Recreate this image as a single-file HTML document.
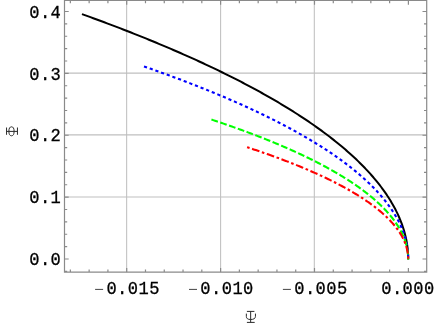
<!DOCTYPE html>
<html><head><meta charset="utf-8"><title>plot</title>
<style>html,body{margin:0;padding:0;background:#fff;}svg{display:block;}text{font-family:"Liberation Mono";fill:#000;stroke:#000;stroke-width:0.3px;}</style></head><body>
<svg width="436" height="328" viewBox="0 0 436 328">
<rect width="436" height="328" fill="#fff"/>
<path d="M126.65 0.5 V272.2 M220.6 0.5 V272.2 M314.3 0.5 V272.2 M64.5 197.05 H426.7 M64.5 134.85 H426.7 M64.5 73.1 H426.7" stroke="#000" stroke-opacity="0.25" stroke-width="1.05" fill="none"/>
<path d="M81.96 14.10 L84.81 15.12 L87.64 16.15 L90.45 17.17 L93.26 18.20 L96.04 19.22 L98.82 20.25 L101.58 21.27 L104.32 22.30 L107.06 23.32 L109.78 24.35 L112.48 25.37 L115.17 26.40 L117.85 27.42 L120.51 28.44 L123.17 29.47 L125.80 30.49 L128.43 31.52 L131.04 32.54 L133.63 33.57 L136.22 34.59 L138.79 35.62 L141.34 36.64 L143.89 37.67 L146.42 38.69 L148.93 39.72 L151.43 40.74 L153.92 41.77 L156.40 42.79 L158.86 43.81 L161.31 44.84 L163.75 45.86 L166.17 46.89 L168.58 47.91 L170.98 48.94 L173.36 49.96 L175.73 50.99 L178.09 52.01 L180.43 53.04 L182.77 54.06 L185.08 55.09 L187.39 56.11 L189.68 57.14 L191.96 58.16 L194.23 59.19 L196.48 60.21 L198.72 61.23 L200.95 62.26 L203.16 63.28 L205.37 64.31 L207.56 65.33 L209.73 66.36 L211.90 67.38 L214.05 68.41 L216.18 69.43 L218.31 70.46 L220.42 71.48 L222.52 72.51 L224.61 73.53 L226.68 74.56 L228.75 75.58 L230.80 76.60 L232.83 77.63 L234.86 78.65 L236.87 79.68 L238.87 80.70 L240.85 81.73 L242.83 82.75 L244.79 83.78 L246.74 84.80 L248.67 85.83 L250.60 86.85 L252.51 87.88 L254.41 88.90 L256.30 89.93 L258.17 90.95 L260.03 91.98 L261.88 93.00 L263.72 94.02 L265.55 95.05 L267.36 96.07 L269.16 97.10 L270.95 98.12 L272.73 99.15 L274.49 100.17 L276.24 101.20 L277.98 102.22 L279.71 103.25 L281.43 104.27 L283.13 105.30 L284.82 106.32 L286.50 107.35 L288.17 108.37 L289.82 109.40 L291.46 110.42 L293.10 111.44 L294.71 112.47 L296.32 113.49 L297.92 114.52 L299.50 115.54 L301.07 116.57 L302.63 117.59 L304.18 118.62 L305.71 119.64 L307.24 120.67 L308.75 121.69 L310.25 122.72 L311.73 123.74 L313.21 124.77 L314.67 125.79 L316.13 126.81 L317.57 127.84 L319.00 128.86 L320.41 129.89 L321.82 130.91 L323.21 131.94 L324.59 132.96 L325.96 133.99 L327.32 135.01 L328.67 136.04 L330.00 137.06 L331.33 138.09 L332.64 139.11 L333.94 140.14 L335.23 141.16 L336.50 142.19 L337.77 143.21 L339.02 144.23 L340.26 145.26 L341.49 146.28 L342.71 147.31 L343.92 148.33 L345.12 149.36 L346.30 150.38 L347.47 151.41 L348.63 152.43 L349.78 153.46 L350.92 154.48 L352.05 155.51 L353.16 156.53 L354.27 157.56 L355.36 158.58 L356.44 159.60 L357.51 160.63 L358.57 161.65 L359.62 162.68 L360.65 163.70 L361.67 164.73 L362.69 165.75 L363.69 166.78 L364.68 167.80 L365.66 168.83 L366.62 169.85 L367.58 170.88 L368.52 171.90 L369.46 172.93 L370.38 173.95 L371.29 174.98 L372.19 176.00 L373.08 177.02 L373.96 178.05 L374.82 179.07 L375.68 180.10 L376.52 181.12 L377.35 182.15 L378.17 183.17 L378.98 184.20 L379.78 185.22 L380.57 186.25 L381.34 187.27 L382.11 188.30 L382.86 189.32 L383.60 190.35 L384.33 191.37 L385.05 192.40 L385.76 193.42 L386.46 194.44 L387.15 195.47 L387.82 196.49 L388.49 197.52 L389.14 198.54 L389.78 199.57 L390.42 200.59 L391.04 201.62 L391.64 202.64 L392.24 203.67 L392.83 204.69 L393.41 205.72 L393.97 206.74 L394.52 207.77 L395.07 208.79 L395.60 209.81 L396.12 210.84 L396.63 211.86 L397.13 212.89 L397.61 213.91 L398.09 214.94 L398.56 215.96 L399.01 216.99 L399.45 218.01 L399.89 219.04 L400.31 220.06 L400.72 221.09 L401.12 222.11 L401.51 223.14 L401.88 224.16 L402.25 225.19 L402.60 226.21 L402.95 227.23 L403.28 228.26 L403.61 229.28 L403.92 230.31 L404.22 231.33 L404.51 232.36 L404.79 233.38 L405.05 234.41 L405.31 235.43 L405.56 236.46 L405.79 237.48 L406.02 238.51 L406.23 239.53 L406.43 240.56 L406.62 241.58 L406.80 242.60 L406.97 243.63 L407.13 244.65 L407.28 245.68 L407.41 246.70 L407.54 247.73 L407.65 248.75 L407.76 249.78 L407.85 250.80 L407.93 251.83 L408.00 252.85 L408.06 253.88 L408.11 254.90 L408.15 255.93 L408.18 256.95 L408.19 257.98 L408.20 259.00 L408.20 259.60" stroke="#000000" stroke-width="2.0" fill="none"/>
<path d="M144.00 66.45 L146.32 67.25 L148.62 68.06 L150.91 68.86 L153.19 69.67 L155.46 70.47 L157.72 71.28 L159.97 72.08 L162.20 72.89 L164.43 73.70 L166.64 74.50 L168.84 75.31 L171.03 76.11 L173.21 76.92 L175.38 77.72 L177.53 78.53 L179.68 79.34 L181.81 80.14 L183.94 80.95 L186.05 81.75 L188.15 82.56 L190.24 83.36 L192.31 84.17 L194.38 84.98 L196.44 85.78 L198.48 86.59 L200.52 87.39 L202.54 88.20 L204.55 89.00 L206.55 89.81 L208.54 90.62 L210.52 91.42 L212.49 92.23 L214.45 93.03 L216.39 93.84 L218.33 94.64 L220.25 95.45 L222.17 96.25 L224.07 97.06 L225.96 97.87 L227.84 98.67 L229.72 99.48 L231.58 100.28 L233.43 101.09 L235.26 101.89 L237.09 102.70 L238.91 103.51 L240.72 104.31 L242.51 105.12 L244.30 105.92 L246.08 106.73 L247.84 107.53 L249.60 108.34 L251.34 109.15 L253.07 109.95 L254.80 110.76 L256.51 111.56 L258.21 112.37 L259.90 113.17 L261.58 113.98 L263.26 114.79 L264.92 115.59 L266.57 116.40 L268.21 117.20 L269.84 118.01 L271.46 118.81 L273.07 119.62 L274.66 120.42 L276.25 121.23 L277.83 122.04 L279.40 122.84 L280.96 123.65 L282.51 124.45 L284.05 125.26 L285.57 126.06 L287.09 126.87 L288.60 127.68 L290.10 128.48 L291.58 129.29 L293.06 130.09 L294.53 130.90 L295.99 131.70 L297.43 132.51 L298.87 133.32 L300.30 134.12 L301.72 134.93 L303.12 135.73 L304.52 136.54 L305.91 137.34 L307.29 138.15 L308.65 138.96 L310.01 139.76 L311.36 140.57 L312.70 141.37 L314.03 142.18 L315.35 142.98 L316.65 143.79 L317.95 144.59 L319.24 145.40 L320.52 146.21 L321.79 147.01 L323.05 147.82 L324.30 148.62 L325.54 149.43 L326.77 150.23 L328.00 151.04 L329.21 151.85 L330.41 152.65 L331.60 153.46 L332.79 154.26 L333.96 155.07 L335.12 155.87 L336.28 156.68 L337.42 157.49 L338.56 158.29 L339.68 159.10 L340.80 159.90 L341.90 160.71 L343.00 161.51 L344.09 162.32 L345.16 163.13 L346.23 163.93 L347.29 164.74 L348.34 165.54 L349.38 166.35 L350.41 167.15 L351.43 167.96 L352.44 168.77 L353.45 169.57 L354.44 170.38 L355.42 171.18 L356.40 171.99 L357.36 172.79 L358.32 173.60 L359.26 174.40 L360.20 175.21 L361.13 176.02 L362.05 176.82 L362.96 177.63 L363.86 178.43 L364.75 179.24 L365.63 180.04 L366.50 180.85 L367.36 181.66 L368.21 182.46 L369.06 183.27 L369.89 184.07 L370.72 184.88 L371.54 185.68 L372.34 186.49 L373.14 187.30 L373.93 188.10 L374.71 188.91 L375.48 189.71 L376.24 190.52 L376.99 191.32 L377.74 192.13 L378.47 192.94 L379.20 193.74 L379.91 194.55 L380.62 195.35 L381.32 196.16 L382.01 196.96 L382.69 197.77 L383.36 198.57 L384.02 199.38 L384.67 200.19 L385.31 200.99 L385.95 201.80 L386.57 202.60 L387.19 203.41 L387.80 204.21 L388.39 205.02 L388.98 205.83 L389.56 206.63 L390.13 207.44 L390.70 208.24 L391.25 209.05 L391.79 209.85 L392.33 210.66 L392.86 211.47 L393.37 212.27 L393.88 213.08 L394.38 213.88 L394.87 214.69 L395.35 215.49 L395.83 216.30 L396.29 217.11 L396.74 217.91 L397.19 218.72 L397.63 219.52 L398.05 220.33 L398.47 221.13 L398.88 221.94 L399.29 222.74 L399.68 223.55 L400.06 224.36 L400.44 225.16 L400.80 225.97 L401.16 226.77 L401.51 227.58 L401.85 228.38 L402.18 229.19 L402.50 230.00 L402.81 230.80 L403.12 231.61 L403.41 232.41 L403.70 233.22 L403.97 234.02 L404.24 234.83 L404.50 235.64 L404.75 236.44 L404.99 237.25 L405.23 238.05 L405.45 238.86 L405.67 239.66 L405.87 240.47 L406.07 241.28 L406.26 242.08 L406.44 242.89 L406.61 243.69 L406.78 244.50 L406.93 245.30 L407.07 246.11 L407.21 246.91 L407.34 247.72 L407.46 248.53 L407.57 249.33 L407.67 250.14 L407.76 250.94 L407.84 251.75 L407.92 252.55 L407.98 253.36 L408.04 254.17 L408.09 254.97 L408.13 255.78 L408.16 256.58 L408.18 257.39 L408.20 258.19 L408.20 259.00 L408.20 259.60" stroke="#0000ff" stroke-width="2.1" fill="none" stroke-dasharray="3.165 2.868"/>
<path d="M211.44 119.53 L213.19 120.12 L214.94 120.70 L216.67 121.28 L218.40 121.87 L220.12 122.45 L221.83 123.03 L223.53 123.62 L225.22 124.20 L226.90 124.79 L228.58 125.37 L230.24 125.95 L231.90 126.54 L233.54 127.12 L235.18 127.70 L236.81 128.29 L238.43 128.87 L240.04 129.45 L241.64 130.04 L243.23 130.62 L244.82 131.20 L246.39 131.79 L247.96 132.37 L249.52 132.96 L251.06 133.54 L252.60 134.12 L254.14 134.71 L255.66 135.29 L257.17 135.87 L258.68 136.46 L260.17 137.04 L261.66 137.62 L263.14 138.21 L264.61 138.79 L266.08 139.37 L267.53 139.96 L268.98 140.54 L270.41 141.12 L271.84 141.71 L273.26 142.29 L274.67 142.88 L276.08 143.46 L277.47 144.04 L278.86 144.63 L280.24 145.21 L281.61 145.79 L282.97 146.38 L284.32 146.96 L285.67 147.54 L287.00 148.13 L288.33 148.71 L289.65 149.29 L290.97 149.88 L292.27 150.46 L293.57 151.04 L294.85 151.63 L296.13 152.21 L297.40 152.80 L298.67 153.38 L299.92 153.96 L301.17 154.55 L302.41 155.13 L303.64 155.71 L304.87 156.30 L306.08 156.88 L307.29 157.46 L308.49 158.05 L309.68 158.63 L310.87 159.21 L312.04 159.80 L313.21 160.38 L314.37 160.97 L315.52 161.55 L316.67 162.13 L317.80 162.72 L318.93 163.30 L320.05 163.88 L321.17 164.47 L322.27 165.05 L323.37 165.63 L324.46 166.22 L325.55 166.80 L326.62 167.38 L327.69 167.97 L328.75 168.55 L329.80 169.13 L330.85 169.72 L331.88 170.30 L332.91 170.89 L333.93 171.47 L334.95 172.05 L335.96 172.64 L336.96 173.22 L337.95 173.80 L338.93 174.39 L339.91 174.97 L340.88 175.55 L341.84 176.14 L342.80 176.72 L343.74 177.30 L344.68 177.89 L345.62 178.47 L346.54 179.05 L347.46 179.64 L348.37 180.22 L349.27 180.81 L350.17 181.39 L351.06 181.97 L351.94 182.56 L352.81 183.14 L353.68 183.72 L354.54 184.31 L355.39 184.89 L356.24 185.47 L357.07 186.06 L357.90 186.64 L358.73 187.22 L359.54 187.81 L360.35 188.39 L361.16 188.98 L361.95 189.56 L362.74 190.14 L363.52 190.73 L364.29 191.31 L365.06 191.89 L365.82 192.48 L366.57 193.06 L367.32 193.64 L368.05 194.23 L368.79 194.81 L369.51 195.39 L370.23 195.98 L370.94 196.56 L371.64 197.14 L372.34 197.73 L373.03 198.31 L373.71 198.90 L374.38 199.48 L375.05 200.06 L375.71 200.65 L376.37 201.23 L377.02 201.81 L377.66 202.40 L378.29 202.98 L378.92 203.56 L379.54 204.15 L380.15 204.73 L380.76 205.31 L381.36 205.90 L381.95 206.48 L382.54 207.06 L383.11 207.65 L383.69 208.23 L384.25 208.82 L384.81 209.40 L385.36 209.98 L385.91 210.57 L386.45 211.15 L386.98 211.73 L387.50 212.32 L388.02 212.90 L388.53 213.48 L389.04 214.07 L389.54 214.65 L390.03 215.23 L390.51 215.82 L390.99 216.40 L391.46 216.99 L391.93 217.57 L392.39 218.15 L392.84 218.74 L393.28 219.32 L393.72 219.90 L394.15 220.49 L394.58 221.07 L394.99 221.65 L395.41 222.24 L395.81 222.82 L396.21 223.40 L396.60 223.99 L396.99 224.57 L397.36 225.15 L397.74 225.74 L398.10 226.32 L398.46 226.91 L398.81 227.49 L399.16 228.07 L399.50 228.66 L399.83 229.24 L400.16 229.82 L400.48 230.41 L400.79 230.99 L401.10 231.57 L401.40 232.16 L401.69 232.74 L401.98 233.32 L402.26 233.91 L402.53 234.49 L402.80 235.07 L403.06 235.66 L403.31 236.24 L403.56 236.83 L403.80 237.41 L404.04 237.99 L404.27 238.58 L404.49 239.16 L404.70 239.74 L404.91 240.33 L405.11 240.91 L405.31 241.49 L405.50 242.08 L405.68 242.66 L405.86 243.24 L406.03 243.83 L406.19 244.41 L406.35 245.00 L406.50 245.58 L406.65 246.16 L406.78 246.75 L406.92 247.33 L407.04 247.91 L407.16 248.50 L407.27 249.08 L407.38 249.66 L407.48 250.25 L407.57 250.83 L407.66 251.41 L407.74 252.00 L407.81 252.58 L407.88 253.16 L407.94 253.75 L407.99 254.33 L408.04 254.92 L408.08 255.50 L408.12 256.08 L408.15 256.67 L408.17 257.25 L408.19 257.83 L408.20 258.42 L408.20 259.00 L408.20 259.60" stroke="#00ff00" stroke-width="2.1" fill="none" stroke-dasharray="6.782 2.525"/>
<path d="M245.98 146.82 L247.41 147.29 L248.83 147.76 L250.25 148.23 L251.66 148.70 L253.06 149.17 L254.45 149.64 L255.84 150.11 L257.22 150.58 L258.59 151.04 L259.96 151.51 L261.32 151.98 L262.67 152.45 L264.01 152.92 L265.35 153.39 L266.68 153.86 L268.00 154.33 L269.32 154.80 L270.63 155.27 L271.93 155.74 L273.22 156.21 L274.51 156.68 L275.79 157.15 L277.07 157.62 L278.33 158.09 L279.59 158.55 L280.85 159.02 L282.09 159.49 L283.33 159.96 L284.57 160.43 L285.79 160.90 L287.01 161.37 L288.22 161.84 L289.43 162.31 L290.63 162.78 L291.82 163.25 L293.00 163.72 L294.18 164.19 L295.35 164.66 L296.52 165.13 L297.68 165.60 L298.83 166.06 L299.97 166.53 L301.11 167.00 L302.24 167.47 L303.37 167.94 L304.49 168.41 L305.60 168.88 L306.70 169.35 L307.80 169.82 L308.89 170.29 L309.98 170.76 L311.06 171.23 L312.13 171.70 L313.20 172.17 L314.26 172.64 L315.31 173.11 L316.35 173.57 L317.39 174.04 L318.43 174.51 L319.45 174.98 L320.48 175.45 L321.49 175.92 L322.50 176.39 L323.50 176.86 L324.49 177.33 L325.48 177.80 L326.46 178.27 L327.44 178.74 L328.41 179.21 L329.37 179.68 L330.33 180.15 L331.28 180.62 L332.22 181.08 L333.16 181.55 L334.09 182.02 L335.02 182.49 L335.94 182.96 L336.85 183.43 L337.76 183.90 L338.66 184.37 L339.55 184.84 L340.44 185.31 L341.32 185.78 L342.20 186.25 L343.07 186.72 L343.93 187.19 L344.79 187.66 L345.64 188.13 L346.48 188.59 L347.32 189.06 L348.15 189.53 L348.98 190.00 L349.80 190.47 L350.61 190.94 L351.42 191.41 L352.22 191.88 L353.02 192.35 L353.81 192.82 L354.60 193.29 L355.37 193.76 L356.15 194.23 L356.91 194.70 L357.67 195.17 L358.43 195.64 L359.17 196.10 L359.92 196.57 L360.65 197.04 L361.38 197.51 L362.11 197.98 L362.83 198.45 L363.54 198.92 L364.25 199.39 L364.95 199.86 L365.64 200.33 L366.33 200.80 L367.01 201.27 L367.69 201.74 L368.36 202.21 L369.03 202.68 L369.69 203.14 L370.34 203.61 L370.99 204.08 L371.63 204.55 L372.27 205.02 L372.90 205.49 L373.52 205.96 L374.14 206.43 L374.75 206.90 L375.36 207.37 L375.96 207.84 L376.56 208.31 L377.15 208.78 L377.73 209.25 L378.31 209.72 L378.88 210.19 L379.45 210.65 L380.01 211.12 L380.57 211.59 L381.12 212.06 L381.66 212.53 L382.20 213.00 L382.74 213.47 L383.26 213.94 L383.78 214.41 L384.30 214.88 L384.81 215.35 L385.32 215.82 L385.81 216.29 L386.31 216.76 L386.80 217.23 L387.28 217.70 L387.75 218.16 L388.23 218.63 L388.69 219.10 L389.15 219.57 L389.60 220.04 L390.05 220.51 L390.50 220.98 L390.93 221.45 L391.36 221.92 L391.79 222.39 L392.21 222.86 L392.63 223.33 L393.04 223.80 L393.44 224.27 L393.84 224.74 L394.23 225.21 L394.62 225.67 L395.00 226.14 L395.38 226.61 L395.75 227.08 L396.11 227.55 L396.47 228.02 L396.83 228.49 L397.18 228.96 L397.52 229.43 L397.86 229.90 L398.19 230.37 L398.52 230.84 L398.84 231.31 L399.15 231.78 L399.46 232.25 L399.77 232.72 L400.07 233.18 L400.36 233.65 L400.65 234.12 L400.93 234.59 L401.21 235.06 L401.48 235.53 L401.75 236.00 L402.01 236.47 L402.27 236.94 L402.52 237.41 L402.76 237.88 L403.00 238.35 L403.23 238.82 L403.46 239.29 L403.69 239.76 L403.90 240.23 L404.12 240.69 L404.32 241.16 L404.53 241.63 L404.72 242.10 L404.91 242.57 L405.10 243.04 L405.28 243.51 L405.45 243.98 L405.62 244.45 L405.79 244.92 L405.94 245.39 L406.10 245.86 L406.24 246.33 L406.39 246.80 L406.52 247.27 L406.66 247.74 L406.78 248.20 L406.90 248.67 L407.02 249.14 L407.13 249.61 L407.23 250.08 L407.33 250.55 L407.43 251.02 L407.51 251.49 L407.60 251.96 L407.67 252.43 L407.75 252.90 L407.81 253.37 L407.88 253.84 L407.93 254.31 L407.98 254.78 L408.03 255.25 L408.07 255.71 L408.10 256.18 L408.13 256.65 L408.16 257.12 L408.18 257.59 L408.19 258.06 L408.20 258.53 L408.20 259.00 L408.20 259.60" stroke="#ff0000" stroke-width="2.1" fill="none" stroke-dasharray="2.626 2.626 7.727 2.626" stroke-dashoffset="-1.161"/>
<path d="M64.5 0.5 H426.7 V272.2 H64.5 Z M70.36 272.2 v-2.7 M70.36 0.5 v2.7 M89.14 272.2 v-2.7 M89.14 0.5 v2.7 M107.92 272.2 v-2.7 M107.92 0.5 v2.7 M126.70 272.2 v-4.2 M126.70 0.5 v4.2 M145.48 272.2 v-2.7 M145.48 0.5 v2.7 M164.26 272.2 v-2.7 M164.26 0.5 v2.7 M183.04 272.2 v-2.7 M183.04 0.5 v2.7 M201.82 272.2 v-2.7 M201.82 0.5 v2.7 M220.60 272.2 v-4.2 M220.60 0.5 v4.2 M239.38 272.2 v-2.7 M239.38 0.5 v2.7 M258.16 272.2 v-2.7 M258.16 0.5 v2.7 M276.94 272.2 v-2.7 M276.94 0.5 v2.7 M295.72 272.2 v-2.7 M295.72 0.5 v2.7 M314.50 272.2 v-4.2 M314.50 0.5 v4.2 M333.28 272.2 v-2.7 M333.28 0.5 v2.7 M352.06 272.2 v-2.7 M352.06 0.5 v2.7 M370.84 272.2 v-2.7 M370.84 0.5 v2.7 M389.62 272.2 v-2.7 M389.62 0.5 v2.7 M408.40 272.2 v-4.2 M408.40 0.5 v4.2 M64.5 271.38 h2.7 M426.7 271.38 h-2.7 M64.5 259.00 h4.2 M426.7 259.00 h-4.2 M64.5 246.62 h2.7 M426.7 246.62 h-2.7 M64.5 234.25 h2.7 M426.7 234.25 h-2.7 M64.5 221.88 h2.7 M426.7 221.88 h-2.7 M64.5 209.50 h2.7 M426.7 209.50 h-2.7 M64.5 197.12 h4.2 M426.7 197.12 h-4.2 M64.5 184.75 h2.7 M426.7 184.75 h-2.7 M64.5 172.38 h2.7 M426.7 172.38 h-2.7 M64.5 160.00 h2.7 M426.7 160.00 h-2.7 M64.5 147.62 h2.7 M426.7 147.62 h-2.7 M64.5 135.25 h4.2 M426.7 135.25 h-4.2 M64.5 122.88 h2.7 M426.7 122.88 h-2.7 M64.5 110.50 h2.7 M426.7 110.50 h-2.7 M64.5 98.12 h2.7 M426.7 98.12 h-2.7 M64.5 85.75 h2.7 M426.7 85.75 h-2.7 M64.5 73.38 h4.2 M426.7 73.38 h-4.2 M64.5 61.00 h2.7 M426.7 61.00 h-2.7 M64.5 48.62 h2.7 M426.7 48.62 h-2.7 M64.5 36.25 h2.7 M426.7 36.25 h-2.7 M64.5 23.88 h2.7 M426.7 23.88 h-2.7 M64.5 11.50 h4.2 M426.7 11.50 h-4.2" stroke="#8a8a8a" stroke-width="1.2" fill="none"/>
<g style="filter:grayscale(1)">
<text transform="translate(29.20 265.20) scale(0.95 1.05)" font-size="18" letter-spacing="0.46">0.0</text>
<text transform="translate(29.20 203.32) scale(0.95 1.05)" font-size="18" letter-spacing="0.46">0.1</text>
<text transform="translate(29.20 141.45) scale(0.95 1.05)" font-size="18" letter-spacing="0.46">0.2</text>
<text transform="translate(29.20 79.58) scale(0.95 1.05)" font-size="18" letter-spacing="0.46">0.3</text>
<text transform="translate(29.20 17.70) scale(0.95 1.05)" font-size="18" letter-spacing="0.46">0.4</text>
<path d="M95.10 289.4 h8" stroke="#222" stroke-width="0.85" fill="none"/>
<text transform="translate(106.40 293.80) scale(0.95 1.05)" font-size="18" letter-spacing="0.46">0.015</text>
<path d="M189.00 289.4 h8" stroke="#222" stroke-width="0.85" fill="none"/>
<text transform="translate(200.30 293.80) scale(0.95 1.05)" font-size="18" letter-spacing="0.46">0.010</text>
<path d="M282.90 289.4 h8" stroke="#222" stroke-width="0.85" fill="none"/>
<text transform="translate(294.20 293.80) scale(0.95 1.05)" font-size="18" letter-spacing="0.46">0.005</text>
<text transform="translate(381.20 293.80) scale(0.95 1.05)" font-size="18" letter-spacing="0.46">0.000</text>
</g>
<g stroke="#2a2a2a" stroke-width="1" fill="none"><path d="M6.5 131.4 H17.5 M6.55 127.5 V134.8 M17.45 127.5 V134.8"/><ellipse cx="11.5" cy="131.3" rx="2.6" ry="4.5"/></g>
<g stroke="#2a2a2a" stroke-width="1" fill="none"><path d="M246.9 311.4 H254.4 M246.9 322.4 H254.7 M250.65 311.4 V322.4 M246.35 313.6 V316.4 C246.35 318.6 247.8 319.5 250.65 319.5 C253.5 319.5 255.45 318.6 255.45 316.4 V313.6"/></g>
</svg></body></html>
